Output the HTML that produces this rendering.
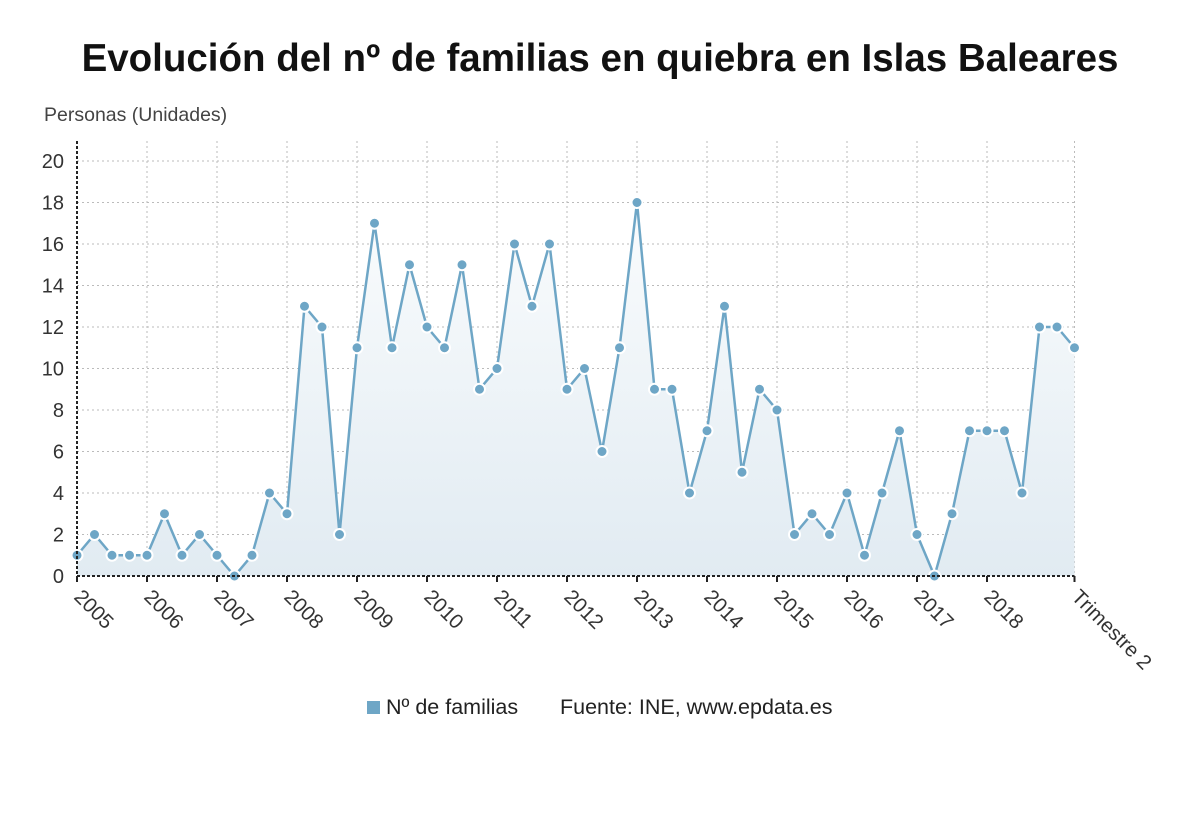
<!DOCTYPE html>
<html><head><meta charset="utf-8"><style>
body{margin:0;background:#fff;width:1200px;height:808px;overflow:hidden;font-family:"Liberation Sans",sans-serif}
</style></head><body>
<svg id="chart" width="1200" height="808" xmlns="http://www.w3.org/2000/svg">
<text x="600" y="71" text-anchor="middle" font-size="38.5" font-weight="bold" fill="#111">Evolución del nº de familias en quiebra en Islas Baleares</text>
<text x="44" y="121" font-size="19.5" fill="#444">Personas (Unidades)</text>
<defs><linearGradient id="g" x1="0" y1="0" x2="0" y2="1"><stop offset="0" stop-color="#fafcfd"/><stop offset="1" stop-color="#e1ebf2"/></linearGradient></defs>
<g id="grid"></g><g id="plot"></g><g id="axes"></g>
<g>
<rect x="367" y="701" width="13" height="13" fill="#6ea6c6"/>
<text x="386" y="714" font-size="21.5" fill="#222">Nº de familias</text>
<text x="560" y="714" font-size="21.5" fill="#222">Fuente: INE, www.epdata.es</text>
</g>
</svg>
<script>
const years=["2005","2006","2007","2008","2009","2010","2011","2012","2013","2014","2015","2016","2017","2018"];
const values=[1,2,1,1, 1,3,1,2, 1,0,1,4, 3,13,12,2, 11,17,11,15, 12,11,15,9, 10,16,13,16, 9,10,6,11, 18,9,9,4, 7,13,5,9, 8,2,3,2, 4,1,4,7, 2,0,3,7, 7,7,4,12, 12,11];
const yTicks=[0,2,4,6,8,10,12,14,16,18,20];
const NS="http://www.w3.org/2000/svg";
const x0=77,dq=17.5,y0=576,yk=20.75;
const X=i=>x0+i*dq, Y=v=>y0-v*yk;
function mk(t,a,p){const e=document.createElementNS(NS,t);for(const k in a)e.setAttribute(k,a[k]);p.appendChild(e);return e;}
const grid=document.getElementById('grid'),plot=document.getElementById('plot'),axes=document.getElementById('axes');
const xEnd=X(values.length-1);
yTicks.forEach(v=>{
 const l=mk('line',{x1:x0,x2:xEnd,y1:Y(v),y2:Y(v),stroke:'#bbb','stroke-dasharray':'2,3'},grid);
 
 
 const t=mk('text',{x:64,y:Y(v)+7,'text-anchor':'end','font-size':20,fill:'#333'},axes);t.textContent=v;
 
 
});
const xt=years.map((y,i)=>X(i*4)).concat([xEnd]);
xt.forEach((x,i)=>{
 const l=mk('line',{x1:x,x2:x,y1:Y(20)-20,y2:y0,stroke:'#bbb','stroke-dasharray':'2,3'},grid);
 
 
 const tk=mk('line',{x1:x,x2:x,y1:y0,y2:y0+6,stroke:'#222','stroke-width':2},axes);
 
 
 const t=mk('text',{x:x-4,y:y0+22,'font-size':20.5,fill:'#333',transform:`rotate(45 ${x-4} ${y0+22})`},axes);
 t.textContent=i<years.length?years[i]:"Trimestre 2";
 
 
});
const ya=mk('line',{x1:x0,x2:x0,y1:Y(20)-20,y2:y0,stroke:'#222','stroke-width':2,'stroke-dasharray':'3,2'},axes);


const xa=mk('line',{x1:x0,x2:xEnd,y1:y0,y2:y0,stroke:'#222','stroke-width':2,'stroke-dasharray':'3,2'},axes);


let d=values.map((v,i)=>(i?'L':'M')+X(i)+','+Y(v)).join('');
const area=mk('path',{d:d+`L${xEnd},${y0}L${x0},${y0}Z`,fill:'url(#g)'},plot);


const line=mk('path',{d:d,fill:'none',stroke:'#6ea6c6','stroke-width':2.5},plot);


values.forEach((v,i)=>{
 const c=mk('circle',{cx:X(i),cy:Y(v),r:5.5,fill:'#6ea6c6',stroke:'#fff','stroke-width':2},plot);
 
 
});
</script>
</body></html>
